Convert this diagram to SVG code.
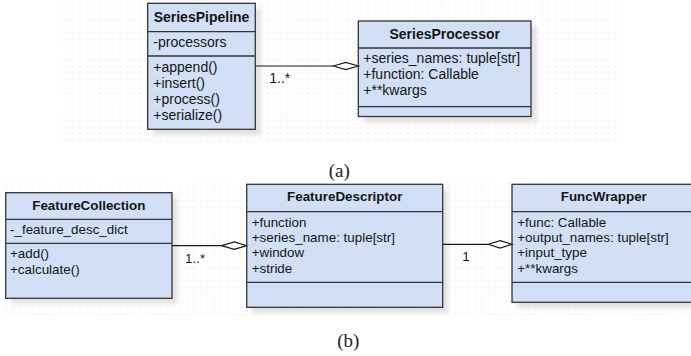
<svg xmlns="http://www.w3.org/2000/svg" width="691" height="356" viewBox="0 0 691 356">
<defs>
<pattern id="grid" width="6.7" height="6.7" patternUnits="userSpaceOnUse">
<path d="M6.7 0V6.7H0" fill="none" stroke="#eeeeee" stroke-width="0.8"/>
</pattern>
<filter id="sh" x="-10%" y="-10%" width="130%" height="130%">
<feGaussianBlur stdDeviation="2"/>
</filter>
<style>
.box{fill:#d1e0f7;stroke:#343434;stroke-width:1.3}
.div{stroke:#343434;stroke-width:1.3;fill:none}
.shadow{fill:#e2e2e2;filter:url(#sh)}
.t{font-family:"Liberation Sans",Arial,sans-serif;font-size:14px;fill:#151515}
.tb{font-family:"Liberation Sans",Arial,sans-serif;font-size:14px;font-weight:bold;fill:#151515;text-anchor:middle}
.s{font-size:13.4px}
.cap{font-family:"Liberation Serif","Times New Roman",serif;font-size:19px;fill:#222;text-anchor:middle}
.line{stroke:#1a1a1a;stroke-width:1.2;fill:none}
.dia{fill:#ffffff;stroke:#1a1a1a;stroke-width:1.2}
</style>
</defs>
<rect x="62" y="0" width="555" height="143" fill="url(#grid)"/>
<rect x="4" y="182" width="687" height="133" fill="url(#grid)"/>

<g id="SeriesPipeline">
<rect class="shadow" x="153" y="9" width="108" height="126"/>
<rect class="box" x="147.7" y="3.3" width="107.6" height="126"/>
<path class="div" d="M147.7 31.7H255.3M147.7 56H255.3"/>
<text class="tb" x="201.5" y="21.7">SeriesPipeline</text>
<text class="t" x="153.3" y="46.7">-processors</text>
<text class="t" x="153.3" y="72.3">+append()</text>
<text class="t" x="153.3" y="88.3">+insert()</text>
<text class="t" x="153.3" y="104.3">+process()</text>
<text class="t" x="153.3" y="120.3">+serialize()</text>
</g>

<g id="SeriesProcessor">
<rect class="shadow" x="364" y="27" width="173" height="95.5"/>
<rect class="box" x="358.3" y="21" width="172.7" height="95.5"/>
<path class="div" d="M358.3 48H531M358.3 106.7H531"/>
<text class="tb" x="444.7" y="39.3">SeriesProcessor</text>
<text class="t" x="363.3" y="63.3">+series_names: tuple[str]</text>
<text class="t" x="363.3" y="79.3">+function: Callable</text>
<text class="t" x="363.3" y="95.3">+**kwargs</text>
</g>

<g id="FeatureCollection">
<rect class="shadow" x="11" y="198" width="166.3" height="105.6"/>
<rect class="box" x="5.7" y="192.7" width="166.3" height="105.6"/>
<path class="div" d="M5.7 219.3H172M5.7 243.3H172"/>
<text class="tb s" x="88.8" y="210">FeatureCollection</text>
<text class="t s" x="10" y="234.3">-_feature_desc_dict</text>
<text class="t s" x="10" y="258.3">+add()</text>
<text class="t s" x="10" y="274">+calculate()</text>
</g>

<g id="FeatureDescriptor">
<rect class="shadow" x="252" y="190" width="196" height="123"/>
<rect class="box" x="246.7" y="184.3" width="196" height="123"/>
<path class="div" d="M246.7 211.7H442.7M246.7 282.3H442.7"/>
<text class="tb s" x="344.7" y="200.7">FeatureDescriptor</text>
<text class="t s" x="251.7" y="226.7">+function</text>
<text class="t s" x="251.7" y="242">+series_name: tuple[str]</text>
<text class="t s" x="251.7" y="257.3">+window</text>
<text class="t s" x="251.7" y="272.6">+stride</text>
</g>

<g id="FuncWrapper">
<rect class="shadow" x="517" y="190" width="184" height="118"/>
<rect class="box" x="512" y="184.3" width="184" height="118"/>
<path class="div" d="M512 211.7H696M512 282.3H696"/>
<text class="tb s" x="603.8" y="200.7">FuncWrapper</text>
<text class="t s" x="517.3" y="226.7">+func: Callable</text>
<text class="t s" x="517.3" y="242">+output_names: tuple[str]</text>
<text class="t s" x="517.3" y="257.3">+input_type</text>
<text class="t s" x="517.3" y="272.6">+**kwargs</text>
</g>

<g id="connectors">
<path class="line" d="M255.3 66H333.3"/>
<polygon class="dia" points="333.3,66 345.8,62.3 358.3,66 345.8,69.7"/>
<text class="t" x="269.3" y="83">1..*</text>
<path class="line" d="M172 245.7H221.7"/>
<polygon class="dia" points="221.7,245.7 234.2,242 246.7,245.7 234.2,249.4"/>
<text class="t s" x="185" y="262.7">1..*</text>
<path class="line" d="M442.7 244.3H488.3"/>
<polygon class="dia" points="488.3,244.3 500.2,240.6 512,244.3 500.2,248"/>
<text class="t s" x="462.3" y="261">1</text>
</g>

<text class="cap" x="339.2" y="177">(a)</text>
<text class="cap" x="348.3" y="346.5">(b)</text>
</svg>
